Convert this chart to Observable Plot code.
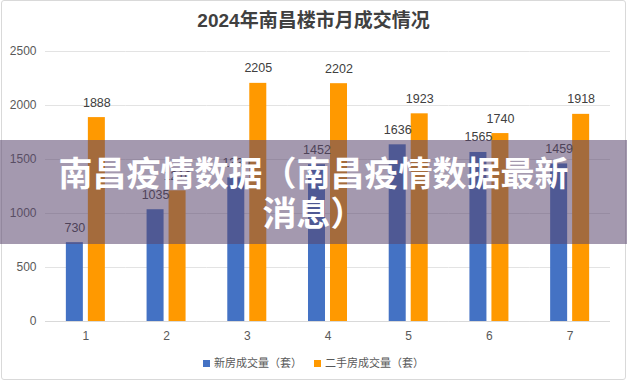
<!DOCTYPE html>
<html><head><meta charset="utf-8">
<script src="https://cdn.jsdelivr.net/npm/d3@7"></script>
<script src="https://cdn.jsdelivr.net/npm/@observablehq/plot@0.6"></script>
<style>
body{margin:0;background:#fff;}
#wrap{position:relative;width:627px;height:384px;overflow:hidden;background:#fff;font-family:"Liberation Sans","Noto Sans CJK SC",sans-serif;}
#frame{position:absolute;left:1px;top:0px;width:625px;height:380px;border:1px solid #d9d9d9;box-sizing:border-box;border-radius:3px;}
#title{position:absolute;top:9px;left:0;width:627px;text-align:center;font-size:19px;line-height:24px;font-weight:bold;color:#404040;}
#chart{position:absolute;top:0;left:0;}
#legend{position:absolute;top:355px;left:0;width:627px;display:flex;justify-content:center;align-items:center;font-size:11px;line-height:16px;color:#595959;}
#legend .item{display:flex;align-items:center;margin:0 6px;}
#legend .sw{width:7px;height:7px;margin-right:4px;}
#banner{position:absolute;left:0;top:140px;width:627px;height:104px;background:rgba(90,70,110,0.55);box-sizing:border-box;padding-top:12px;}
#banner div{width:530px;margin:0 auto;text-align:center;color:#fff;font-weight:bold;font-size:34px;line-height:40px;font-family:"Noto Sans CJK SC",sans-serif;}
</style></head>
<body>
<div id="wrap">
  <div id="frame"></div>
  <div id="chart"></div>
  <div id="title"></div>
  <div id="legend"></div>
  <div id="banner"><div id="bannerText"></div></div>
</div>
<script>
const chartTitle = "2024年南昌楼市月成交情况";
const bannerTitle = "南昌疫情数据（南昌疫情数据最新消息）";
const months = ["1","2","3","4","5","6","7"];
const newHomes = [730, 1035, 1330, 1452, 1636, 1565, 1459];
const resale = [1888, 1210, 2205, 2202, 1923, 1740, 1918];
const seriesNames = ["新房成交量（套）", "二手房成交量（套）"];
const seriesColors = ["#4472C4", "#FF9900"];
const yTicks = [0, 500, 1000, 1500, 2000, 2500];

const data = months.flatMap((m, i) => [
  {month: m, series: seriesNames[0], value: newHomes[i]},
  {month: m, series: seriesNames[1], value: resale[i]}
]);

document.getElementById("title").textContent = chartTitle;
document.getElementById("bannerText").textContent = bannerTitle;

const legend = document.getElementById("legend");
seriesNames.forEach((s, i) => {
  const it = document.createElement("div");
  it.className = "item";
  const sw = document.createElement("div");
  sw.className = "sw";
  sw.style.background = seriesColors[i];
  const t = document.createElement("span");
  t.textContent = s;
  it.appendChild(sw); it.appendChild(t);
  legend.appendChild(it);
});

const plot = Plot.plot({
  width: 627,
  height: 345,
  marginTop: 51,
  marginBottom: 24,
  marginLeft: 45,
  marginRight: 17,
  style: {fontFamily: '"Liberation Sans","Noto Sans CJK SC",sans-serif', fontSize: "12px", color: "#595959", background: "transparent"},
  fx: {domain: months, padding: 0, round: false, axis: "bottom", label: null, tickSize: 0, tickPadding: 10},
  x: {domain: seriesNames, paddingInner: 0.227, paddingOuter: 0.948, round: false, axis: null},
  y: {domain: [0, 2500], ticks: yTicks, tickFormat: d => String(d), tickSize: 0, tickPadding: 9, label: null},
  color: {domain: seriesNames, range: seriesColors},
  marks: [
    Plot.ruleY(yTicks, {stroke: "#e3e3e3"}),
    Plot.ruleY([0], {stroke: "#d9d9d9"}),
    Plot.barY(data, {fx: "month", x: "series", y: "value", fill: "series"}),
    Plot.text(data, {fx: "month", x: "series", y: "value", text: d => String(d.value), lineAnchor: "bottom", dy: -11, fill: "#404040", fontSize: 12.5})
  ]
});
document.getElementById("chart").appendChild(plot);
</script>
</body></html>
